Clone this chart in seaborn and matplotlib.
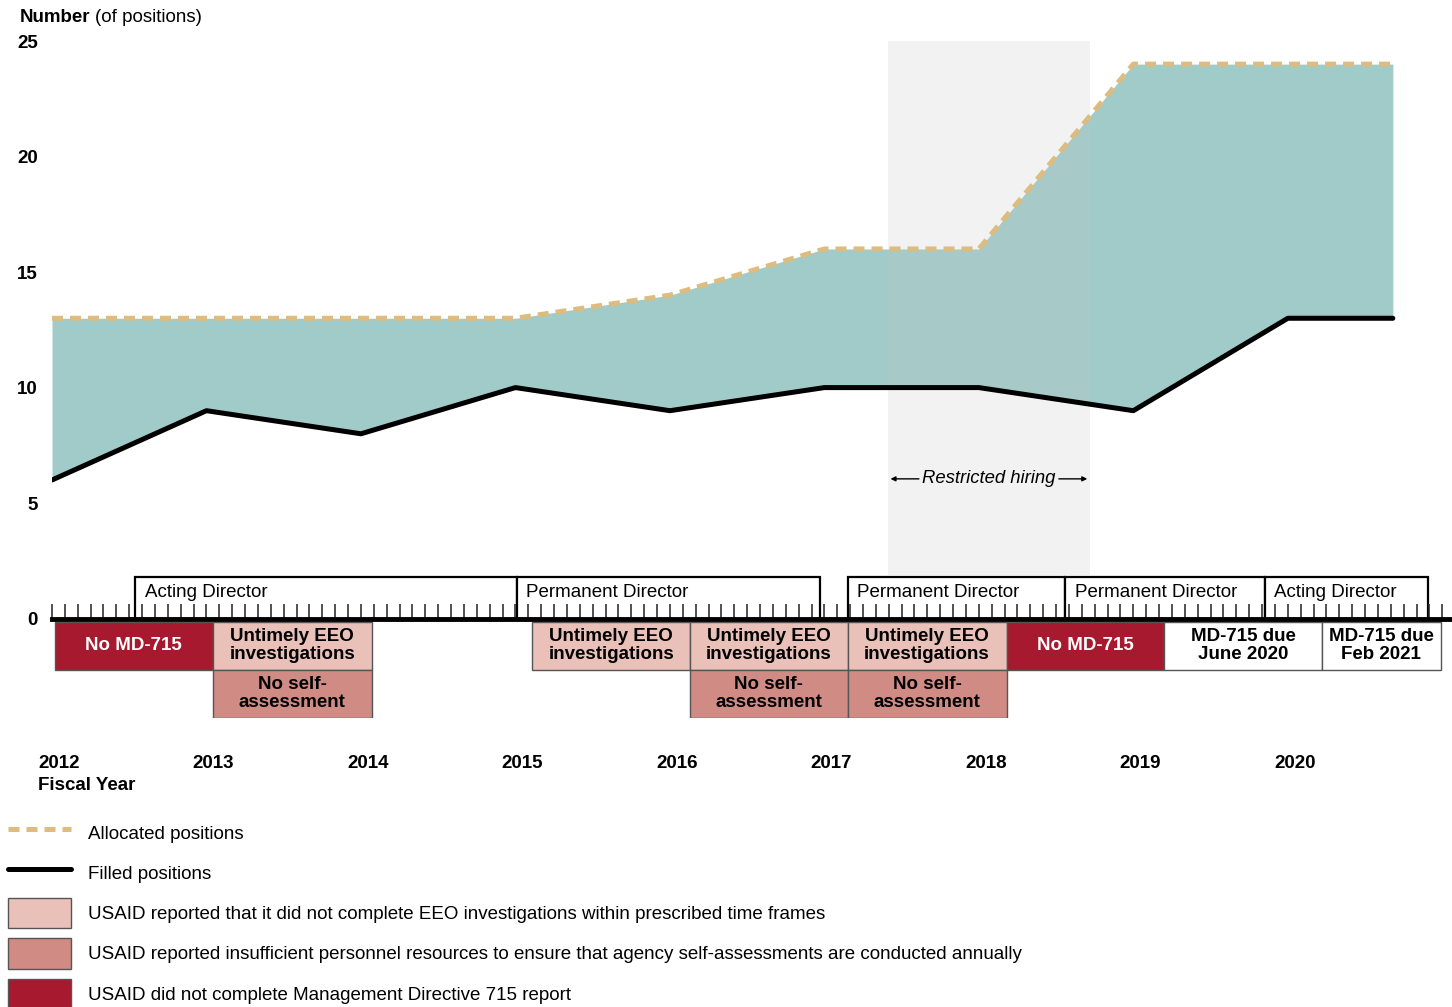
import numpy as np
import pandas as pd
import seaborn as sns
import matplotlib.pyplot as plt
from matplotlib.patches import Rectangle, Patch
from matplotlib.lines import Line2D
from matplotlib.ticker import MultipleLocator
from matplotlib.transforms import ScaledTranslation

# positions over time (fiscal years)
years = [2012, 2013, 2014, 2015, 2016, 2017, 2018, 2019, 2020, 2020.68]
allocated = [13, 13, 13, 13, 14, 16, 16, 24, 24, 24]
filled = [6, 9, 8, 10, 9, 10, 10, 9, 13, 13]

# office leadership
director_start = [2012.54, 2015.01, 2017.15, 2018.56, 2019.85]
director_end = [2015.01, 2016.97, 2018.56, 2019.85, 2020.91]
director_label = ["Acting Director", "Permanent Director", "Permanent Director",
                  "Permanent Director", "Acting Director"]

# reporting status boxes
status_start = [2012.02, 2013.04, 2015.11, 2016.13, 2017.15, 2018.18, 2019.20, 2020.22,
                2013.04, 2016.13, 2017.15]
status_end = [2013.04, 2014.07, 2016.13, 2017.15, 2018.18, 2019.20, 2020.22, 2020.99,
              2014.07, 2017.15, 2018.18]
status_row = [1, 1, 1, 1, 1, 1, 1, 1, 2, 2, 2]
status_kind = ["md", "eeo", "eeo", "eeo", "eeo", "md", "due", "due", "self", "self", "self"]
status_label = ["No MD-715", "Untimely EEO\ninvestigations", "Untimely EEO\ninvestigations",
                "Untimely EEO\ninvestigations", "Untimely EEO\ninvestigations", "No MD-715",
                "MD-715 due\nJune 2020", "MD-715 due\nFeb 2021",
                "No self-\nassessment", "No self-\nassessment", "No self-\nassessment"]

restricted = [2017.41, 2018.72]
year_ticks = [2012, 2013, 2014, 2015, 2016, 2017, 2018, 2019, 2020]
y_ticks = [0, 5, 10, 15, 20, 25]

TEAL = "#a0cbc9"
TAN = "#dcbc7f"
COLORS = {"md": "#a6192e", "eeo": "#e9c1b9", "self": "#cf8b84", "due": "white"}
TEXTC = {"md": "white", "eeo": "black", "self": "black", "due": "black"}
FS = 13.5


def main():
    sns.set_theme(style="white")
    plt.rcParams["font.family"] = ["Liberation Sans", "DejaVu Sans"]
    plt.rcParams["text.color"] = "black"
    plt.rcParams["xtick.color"] = "black"
    plt.rcParams["ytick.color"] = "black"

    df = pd.DataFrame({"year": years, "allocated": allocated, "filled": filled})

    fig = plt.figure(figsize=(14.52, 10.07), dpi=100)
    ax = fig.add_axes([52 / 1452, 1 - 718 / 1007, (1450 - 52) / 1452, (718 - 41) / 1007])

    ax.fill_between(df["year"], df["filled"], df["allocated"], color=TEAL, lw=0, zorder=1)
    ax.add_patch(Rectangle((restricted[0], 1.9), restricted[1] - restricted[0], 25 - 1.9,
                           color="#c4c4c4", alpha=0.21, lw=0, zorder=1.5))
    sns.lineplot(data=df, x="year", y="filled", color="black", lw=3.6, ax=ax, zorder=3)
    sns.lineplot(data=df, x="year", y="allocated", color=TAN, lw=3.6, ax=ax, zorder=3,
                 linestyle=(0, (2.2, 1.4)))

    ax.annotate("", xy=(restricted[0], 6.05), xytext=(restricted[0] + 0.22, 6.05),
                arrowprops=dict(arrowstyle="-|>", color="black", lw=1, mutation_scale=7))
    ax.annotate("", xy=(restricted[1], 6.05), xytext=(restricted[1] - 0.22, 6.05),
                arrowprops=dict(arrowstyle="-|>", color="black", lw=1, mutation_scale=7))
    ax.text(sum(restricted) / 2, 6.05, "Restricted hiring", style="italic", fontsize=13.3,
            ha="center", va="center")

    # director boxes above the axis
    for s, e, lab in zip(director_start, director_end, director_label):
        ax.add_patch(Rectangle((s, 0), e - s, 1.82, facecolor="white", edgecolor="black",
                               lw=1.6, zorder=1.8))
        ax.text(s + 0.06, 1.15, lab, fontsize=FS, ha="left", va="center", zorder=4)

    # status boxes below the axis
    for s, e, r, k, lab in zip(status_start, status_end, status_row, status_kind, status_label):
        top = -0.13 if r == 1 else -2.21
        bot = -2.21 if r == 1 else -4.28
        ax.add_patch(Rectangle((s, bot), e - s, top - bot, facecolor=COLORS[k],
                               edgecolor="#555555", lw=1, zorder=2))
        ax.text((s + e) / 2, (top + bot) / 2, lab, fontsize=FS, fontweight="bold",
                color=TEXTC[k], ha="center", va="center", linespacing=1.08, zorder=4)

    ax.set_xlim(2012, 2021.05)
    ax.set_ylim(-4.3, 25)
    ax.set_axisbelow(False)
    ax.xaxis.set_zorder(4)
    for sp in ["left", "right", "top"]:
        ax.spines[sp].set_visible(False)
    ax.spines["bottom"].set_position(("data", 0))
    ax.spines["bottom"].set_linewidth(3.5)
    ax.spines["bottom"].set_color("black")
    ax.spines["bottom"].set_zorder(5)

    ax.set_xticks(year_ticks)
    ax.set_xticklabels([str(y) for y in year_ticks], fontsize=FS, fontweight="bold")
    ax.xaxis.set_minor_locator(MultipleLocator(1 / 12))
    ax.tick_params(axis="x", which="both", direction="in", length=11, width=1.1,
                   color="#222222", pad=98, bottom=True)
    shift = ScaledTranslation(7 / 100, 0, fig.dpi_scale_trans)
    for lab in ax.get_xticklabels():
        lab.set_transform(lab.get_transform() + shift)
    ax.set_yticks(y_ticks)
    ax.set_yticklabels([str(y) for y in y_ticks], fontsize=FS, fontweight="bold")
    ax.tick_params(axis="y", length=0, pad=10)
    ax.set_xlabel("")
    ax.set_ylabel("")

    fig.text(20 / 1452, 1 - 18 / 1007, "Number", fontsize=FS, fontweight="bold",
             ha="left", va="center")
    fig.text(95 / 1452, 1 - 18 / 1007, "(of positions)", fontsize=FS,
             ha="left", va="center")
    fig.text(38 / 1452, 1 - 786 / 1007, "Fiscal Year", fontsize=FS, fontweight="bold",
             ha="left", va="center")

    handles = [
        Line2D([], [], color=TAN, lw=3.6, linestyle=(0, (2.2, 1.4))),
        Line2D([], [], color="black", lw=3.6),
        Patch(facecolor=COLORS["eeo"], edgecolor="#555555", lw=1),
        Patch(facecolor=COLORS["self"], edgecolor="#555555", lw=1),
        Patch(facecolor=COLORS["md"], edgecolor="#555555", lw=1),
    ]
    labels = [
        "Allocated positions",
        "Filled positions",
        "USAID reported that it did not complete EEO investigations within prescribed time frames",
        "USAID reported insufficient personnel resources to ensure that agency self-assessments are conducted annually",
        "USAID did not complete Management Directive 715 report",
    ]
    fig.legend(handles, labels, loc="upper left", bbox_to_anchor=(8 / 1452, 1 - 818 / 1007),
               frameon=False, fontsize=FS, handlelength=3.37, handleheight=2.1,
               handletextpad=0.92, labelspacing=0.53, borderpad=0, borderaxespad=0)

    plt.savefig("out.png", dpi=100)


if __name__ == "__main__":
    main()
